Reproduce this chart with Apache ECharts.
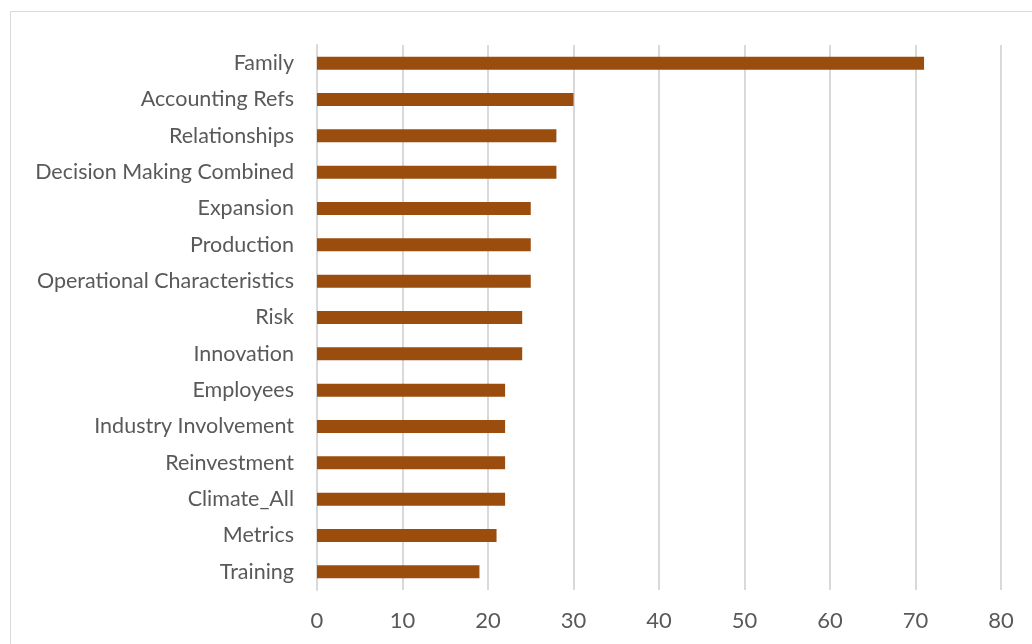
<!DOCTYPE html>
<html><head><meta charset="utf-8">
<script src="https://cdn.jsdelivr.net/npm/echarts@6/dist/echarts.min.js"></script>
<style>html,body{margin:0;padding:0;background:#fff}#c{width:1032px;height:644px}</style>
</head><body><div id="c"></div>
<script>
const categories = ["Family","Accounting Refs","Relationships","Decision Making Combined","Expansion","Production","Operational Characteristics","Risk","Innovation","Employees","Industry Involvement","Reinvestment","Climate_All","Metrics","Training"];
const values = [71,30,28,28,25,25,25,24,24,22,22,22,22,21,19];
const xTicks = {min:0,max:80,interval:10};

const chart = echarts.init(document.getElementById('c'));
chart.setOption({
  animation:false,
  backgroundColor:'#fff',
  graphic:[{type:'rect',shape:{x:10.5,y:11.5,width:1040,height:660},style:{fill:'none',stroke:'#d9d9d9',lineWidth:1},silent:true}],
  grid:{left:317,right:31,top:45,bottom:54},
  xAxis:{type:'value',min:xTicks.min,max:xTicks.max,interval:xTicks.interval,
    axisLine:{show:false},axisTick:{show:false},
    splitLine:{lineStyle:{color:'#d9d9d9',width:2}},
    axisLabel:{color:'#595959',fontSize:22,fontFamily:'Lato',margin:20}},
  yAxis:{type:'category',data:categories,inverse:true,
    axisLine:{show:true,lineStyle:{color:'#d9d9d9',width:2}},axisTick:{show:false},
    axisLabel:{color:'#595959',fontSize:21.5,fontFamily:'Lato',margin:23,padding:[5,0,0,0]}},
  series:[{type:'bar',data:values,barWidth:13,itemStyle:{color:'#9a4d0c'}}]
});
</script></body></html>
